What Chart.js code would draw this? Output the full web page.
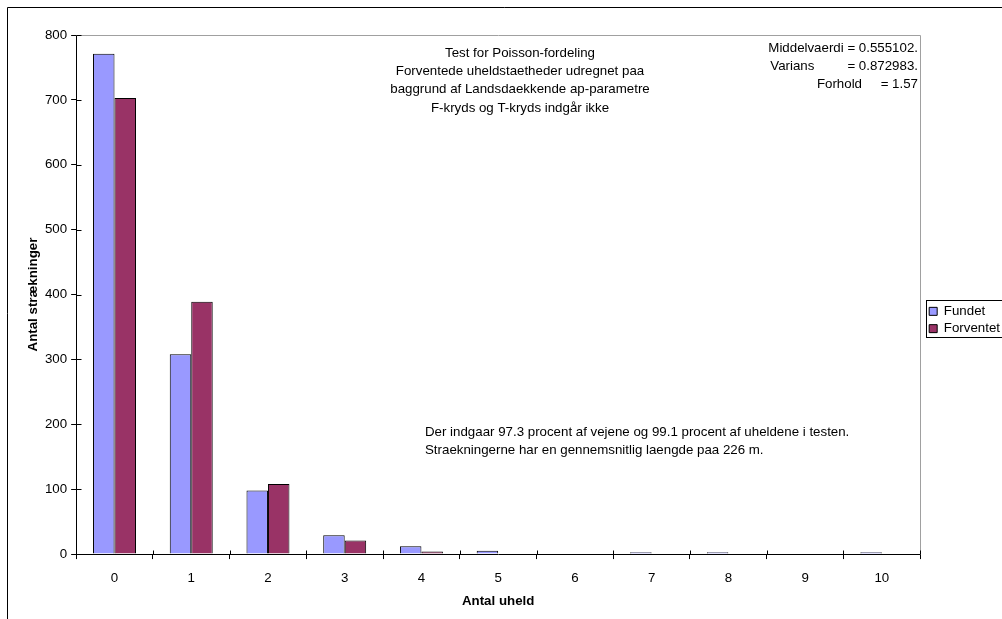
<!DOCTYPE html>
<html>
<head>
<meta charset="utf-8">
<script src="https://cdn.jsdelivr.net/npm/chart.js@4"></script>
<style>
    html, body { margin: 0; padding: 0; background: #fff; overflow: hidden; }
    #wrap { width: 1002px; height: 619px; position: relative; }
</style>
</head>
<body>
<div id="wrap"><canvas id="poissonChart" width="1002" height="619"></canvas></div>
<script>
// values
const categories = ['0', '1', '2', '3', '4', '5', '6', '7', '8', '9', '10'];
const fundet = [771, 308, 98, 29, 12, 5, 0, 3, 3, 0, 3];
const forventet = [703, 389, 108, 21, 4, 0, 0, 0, 0, 0, 0];
const yMax = 800;
const yStep = 100;

const titleLines = [
    'Test for Poisson-fordeling',
    'Forventede uheldstaetheder udregnet paa',
    'baggrund af Landsdaekkende ap-parametre',
    'F-kryds og T-kryds indgår ikke'
];
const statLabels = ['Middelvaerdi', 'Varians', 'Forhold'];
const statValues = ['= 0.555102.', '= 0.872983.', '= 1.57'];
const noteLines = [
    'Der indgaar 97.3 procent af vejene og 99.1 procent af uheldene i testen.',
    'Straekningerne har en gennemsnitlig laengde paa 226 m.'
];

const FONT = '"Liberation Sans", Arial, sans-serif';
const FS = 13.3;
const LEGEND_SHIFT_X = 5;
const LEGEND_SHIFT_Y = -4;

// white page with the black frame at top/left
const pageFrame = {
    id: 'pageFrame',
    afterLayout(chart) {
        // nudge the legend towards the right edge like the original
        const lg = chart.legend;
        lg.left += LEGEND_SHIFT_X;
        lg.right += LEGEND_SHIFT_X;
        lg.top += LEGEND_SHIFT_Y;
        lg.bottom += LEGEND_SHIFT_Y;
    },
    beforeDraw(chart) {
        const ctx = chart.ctx;
        ctx.save();
        ctx.fillStyle = '#fff';
        ctx.fillRect(0, 0, chart.width, chart.height);
        ctx.strokeStyle = '#000';
        ctx.lineWidth = 1;
        ctx.beginPath();
        ctx.moveTo(7.5, chart.height);
        ctx.lineTo(7.5, 7.5);
        ctx.lineTo(chart.width, 7.5);
        ctx.stroke();
        ctx.restore();
    }
};

// grey plot border, inner half of the tick marks, legend frame, text boxes
const extras = {
    id: 'extras',
    afterDraw(chart) {
        const ctx = chart.ctx;
        const a = chart.chartArea;
        const left = Math.round(a.left) + 0.5;
        const top = Math.round(a.top) + 0.5;
        const right = Math.round(a.right) + 0.5;
        const bottom = Math.round(a.bottom) + 0.5;
        ctx.save();
        ctx.lineWidth = 1;
        ctx.strokeStyle = '#a0a0a0';
        ctx.beginPath();
        ctx.moveTo(left, top);
        ctx.lineTo(right, top);
        ctx.lineTo(right, bottom);
        ctx.stroke();

        ctx.strokeStyle = '#000';
        ctx.beginPath();
        chart.scales.y.ticks.forEach(t => {
            const py = Math.round(chart.scales.y.getPixelForValue(t.value)) + 0.5;
            ctx.moveTo(left, py);
            ctx.lineTo(left + 5, py);
        });
        for (let i = 0; i <= categories.length; i++) {
            const px = Math.round(a.left + (a.right - a.left) * i / categories.length) + 0.5;
            ctx.moveTo(px, bottom);
            ctx.lineTo(px, bottom - 4);
        }
        ctx.stroke();

        const lg = chart.legend;
        const boxes = lg.legendHitBoxes;
        if (boxes && boxes.length) {
            const bl = lg.left + lg.options.labels.padding - 3;
            const bt = Math.min(...boxes.map(b => b.top)) + LEGEND_SHIFT_Y - 1;
            const bb = Math.max(...boxes.map(b => b.top + b.height)) + LEGEND_SHIFT_Y + 5;
            ctx.strokeRect(Math.round(bl) + 0.5, Math.round(bt) + 0.5, chart.width, Math.round(bb - bt));
        }

        ctx.fillStyle = '#000';
        ctx.font = FS + 'px ' + FONT;
        ctx.textBaseline = 'middle';

        ctx.textAlign = 'center';
        titleLines.forEach((t, i) => ctx.fillText(t, 520, 53 + i * 18.3));

        ctx.textAlign = 'right';
        const first = statLabels[0] + ' ' + statValues[0];
        ctx.fillText(first, 918, 48);
        const statLeft = 918 - ctx.measureText(first).width;
        ctx.fillText(statValues[1], 918, 66);
        ctx.fillText(statValues[2], 918, 84);
        ctx.fillText(statLabels[2], 862, 84);
        ctx.textAlign = 'left';
        ctx.fillText(statLabels[1], statLeft + 2, 66);

        noteLines.forEach((t, i) => ctx.fillText(t, 425, 432 + i * 18));
        ctx.restore();
    }
};

const ctx = document.getElementById('poissonChart').getContext('2d');
const poissonChart = new Chart(ctx, {
    type: 'bar',
    data: {
        labels: categories,
        datasets: [{
            label: 'Fundet',
            data: fundet,
            backgroundColor: '#9999ff',
            borderColor: '#000',
            borderWidth: 1
        }, {
            label: 'Forventet',
            data: forventet,
            backgroundColor: '#993366',
            borderColor: '#000',
            borderWidth: 1
        }]
    },
    options: {
        responsive: false,
        animation: false,
        categoryPercentage: 0.56,
        barPercentage: 1.0,
        layout: {
            padding: { left: 25, top: 35, right: -3, bottom: 6 }
        },
        plugins: {
            legend: {
                position: 'right',
                align: 'center',
                labels: {
                    color: '#000',
                    font: { family: FONT, size: FS },
                    boxWidth: 8,
                    boxHeight: 8,
                    padding: 4
                }
            },
            tooltip: { enabled: false }
        },
        scales: {
            y: {
                min: 0,
                max: yMax,
                ticks: {
                    stepSize: yStep,
                    color: '#000',
                    font: { family: FONT, size: FS },
                    padding: 4
                },
                grid: {
                    drawOnChartArea: false,
                    color: '#000',
                    tickLength: 5
                },
                border: { color: '#000' },
                title: {
                    display: true,
                    text: 'Antal strækninger',
                    color: '#000',
                    font: { family: FONT, size: FS, weight: 'bold' },
                    padding: { top: 0, bottom: 0 }
                }
            },
            x: {
                ticks: {
                    color: '#000',
                    font: { family: FONT, size: FS },
                    padding: 11
                },
                grid: {
                    drawOnChartArea: false,
                    color: '#000',
                    tickLength: 5
                },
                border: { color: '#000' },
                title: {
                    display: true,
                    text: 'Antal uheld',
                    color: '#000',
                    font: { family: FONT, size: FS, weight: 'bold' },
                    padding: { top: -4 }
                }
            }
        }
    },
    plugins: [pageFrame, extras]
});
</script>
</body>
</html>
